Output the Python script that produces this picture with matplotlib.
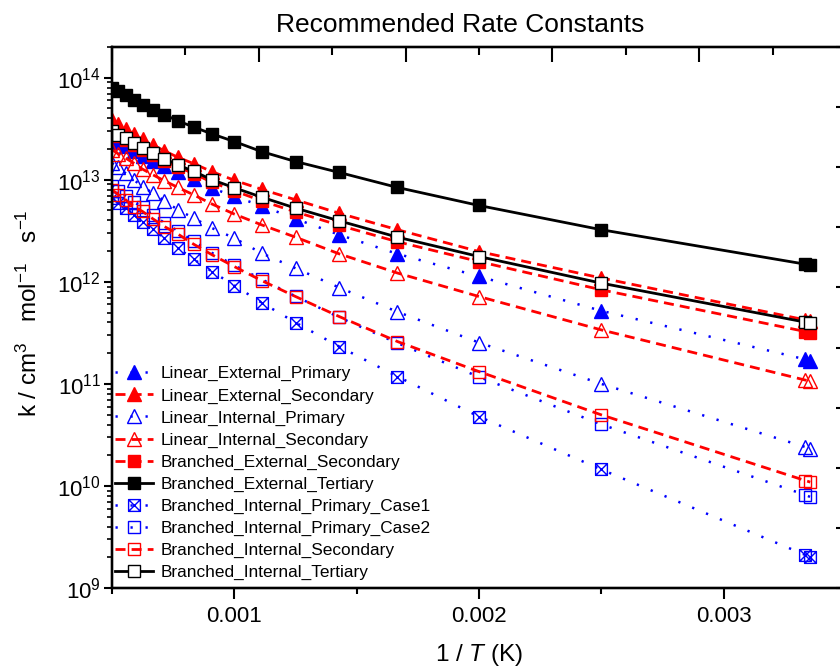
import numpy as np
import matplotlib
matplotlib.use('Agg')
import matplotlib.pyplot as plt
from matplotlib.path import Path
from matplotlib.ticker import LogLocator, NullFormatter, MultipleLocator, FixedLocator

plt.rcParams['font.family'] = ['Liberation Sans', 'DejaVu Sans']
plt.rcParams['mathtext.fontset'] = 'custom'
plt.rcParams['mathtext.rm'] = 'Liberation Sans'
plt.rcParams['mathtext.it'] = 'Liberation Sans:italic'
plt.rcParams['mathtext.default'] = 'regular'

# temperatures (K), x axis is 1/T
temps = [2000, 1900, 1800, 1700, 1600, 1500, 1400, 1300, 1200, 1100, 1000,
         900, 800, 700, 600, 500, 400, 300, 298.15]

# rate constants, cm3 mol-1 s-1
lin_ext_pri = [2.49e13, 2.33e13, 2.13e13, 1.92e13, 1.72e13, 1.53e13, 1.36e13, 1.19e13, 1.01e13, 8.29e12,
               6.86e12, 5.56e12, 4.15e12, 2.89e12, 1.88e12, 1.13e12, 5.20e11, 1.74e11, 1.68e11]
lin_ext_sec = [3.87e13, 3.54e13, 3.16e13, 2.82e13, 2.49e13, 2.20e13, 1.92e13, 1.66e13, 1.44e13, 1.20e13,
               9.89e12, 8.07e12, 6.37e12, 4.70e12, 3.24e12, 1.98e12, 1.09e12, 4.24e11, 4.15e11]
lin_int_pri = [1.46e13, 1.32e13, 1.16e13, 1.00e13, 8.59e12, 7.41e12, 6.22e12, 5.08e12, 4.22e12, 3.36e12,
               2.68e12, 1.91e12, 1.36e12, 8.79e11, 5.08e11, 2.54e11, 1.00e11, 2.41e10, 2.31e10]
lin_int_sec = [1.97e13, 1.79e13, 1.63e13, 1.46e13, 1.27e13, 1.12e13, 9.77e12, 8.41e12, 7.13e12, 5.78e12,
               4.61e12, 3.62e12, 2.74e12, 1.88e12, 1.22e12, 7.18e11, 3.38e11, 1.09e11, 1.07e11]
br_ext_sec = [2.89e13, 2.67e13, 2.47e13, 2.20e13, 1.97e13, 1.76e13, 1.53e13, 1.34e13, 1.15e13, 9.45e12,
              7.80e12, 6.22e12, 4.85e12, 3.58e12, 2.47e12, 1.58e12, 8.35e11, 3.26e11, 3.16e11]
br_ext_ter = [7.92e13, 7.46e13, 6.70e13, 6.08e13, 5.43e13, 4.85e13, 4.34e13, 3.78e13, 3.29e13, 2.81e13,
              2.37e13, 1.89e13, 1.51e13, 1.18e13, 8.41e12, 5.60e12, 3.24e12, 1.49e12, 1.47e12]
br_int_pri1 = [6.62e12, 5.92e12, 5.28e12, 4.54e12, 3.90e12, 3.31e12, 2.68e12, 2.14e12, 1.67e12, 1.26e12,
               9.20e11, 6.27e11, 3.99e11, 2.32e11, 1.18e11, 4.78e10, 1.45e10, 2.11e9, 2.01e9]
br_int_pri2 = [8.73e12, 7.80e12, 6.97e12, 6.08e12, 5.37e12, 4.54e12, 3.78e12, 3.16e12, 2.49e12, 1.92e12,
               1.45e12, 1.06e12, 7.21e11, 4.49e11, 2.51e11, 1.17e11, 4.01e10, 8.16e9, 7.80e9]
br_int_sec = [7.98e12, 7.13e12, 6.37e12, 5.47e12, 4.89e12, 4.15e12, 3.48e12, 2.94e12, 2.34e12, 1.84e12,
              1.41e12, 1.03e12, 7.18e11, 4.57e11, 2.60e11, 1.32e11, 4.97e10, 1.13e10, 1.09e10]
br_int_ter = [2.98e13, 2.76e13, 2.56e13, 2.29e13, 2.05e13, 1.83e13, 1.61e13, 1.40e13, 1.21e13, 1.00e13,
              8.35e12, 6.76e12, 5.28e12, 3.96e12, 2.74e12, 1.77e12, 9.71e11, 4.03e11, 3.94e11]

x = 1.0 / np.array(temps)

# square with a cross inside
boxx = Path([(-1, -1), (1, -1), (1, 1), (-1, 1), (-1, -1), (-1, -1), (1, 1), (-1, 1), (1, -1)],
            [Path.MOVETO, Path.LINETO, Path.LINETO, Path.LINETO, Path.CLOSEPOLY,
             Path.MOVETO, Path.LINETO, Path.MOVETO, Path.LINETO])

blue, red, black = '#0000ff', '#ff0000', '#000000'
dot = dict(ls=(0, (0.9, 5.1)), lw=1.8)
dash = dict(ls=(0, (3.6, 2.2)), lw=2.0)
solid = dict(ls='-', lw=2.0)

series = [
    ('Linear_External_Primary', lin_ext_pri, blue, dot, '^', blue, 10.5),
    ('Linear_External_Secondary', lin_ext_sec, red, dash, '^', red, 10.5),
    ('Linear_Internal_Primary', lin_int_pri, blue, dot, '^', 'none', 10.5),
    ('Linear_Internal_Secondary', lin_int_sec, red, dash, '^', 'none', 10.5),
    ('Branched_External_Secondary', br_ext_sec, red, dash, 's', red, 8.5),
    ('Branched_External_Tertiary', br_ext_ter, black, solid, 's', black, 8.5),
    ('Branched_Internal_Primary_Case1', br_int_pri1, blue, dot, boxx, 'none', 8.5),
    ('Branched_Internal_Primary_Case2', br_int_pri2, blue, dot, 's', 'none', 8.5),
    ('Branched_Internal_Secondary', br_int_sec, red, dash, 's', 'none', 8.5),
    ('Branched_Internal_Tertiary', br_int_ter, black, solid, 's', 'white', 8.5),
]

fig = plt.figure(figsize=(8.4, 6.69), dpi=100)
ax = fig.add_axes([112/840, 1 - 588/669, 734/840, 541/669])

for lab, y, c, st, m, fc, ms in series:
    ax.plot(x, y, color=c, marker=m, ms=ms, mfc=fc, mec=c, mew=1.0, label=lab, **st)

ax.set_yscale('log')
ax.set_xlim(0.0005, 0.0035)
ax.set_ylim(1e9, 2e14)

axt = ax.twiny()
axr = ax.twinx()

ax.set_xticks([0.001, 0.002, 0.003])
ax.set_xticklabels(['0.001', '0.002', '0.003'])
ax.xaxis.set_minor_locator(FixedLocator([0.0005, 0.0015, 0.0025, 0.0035]))
ax.yaxis.set_major_locator(LogLocator(base=10, numticks=20))
ax.yaxis.set_minor_locator(LogLocator(base=10, subs=np.arange(2, 10), numticks=20))
ax.yaxis.set_minor_formatter(NullFormatter())
ax.tick_params(axis='x', which='major', direction='out', length=8, width=1.5, labelsize=16, pad=5)
ax.tick_params(axis='x', which='minor', direction='out', length=4.5, width=1.5)
ax.tick_params(axis='y', which='major', direction='out', length=6, width=1.5, labelsize=16, pad=2)
ax.tick_params(axis='y', which='minor', direction='out', length=3.5, width=1.2)

axt.set_xlim(0, 5)
axt.xaxis.set_major_locator(MultipleLocator(1))
axt.xaxis.set_minor_locator(MultipleLocator(0.5))
axt.tick_params(axis='x', which='major', direction='in', length=11, width=1.5, labeltop=False)
axt.tick_params(axis='x', which='minor', direction='in', length=6, width=1.5)

axr.set_ylim(0, 9)
axr.yaxis.set_major_locator(MultipleLocator(1))
axr.tick_params(axis='y', which='major', direction='in', length=7, width=1.5, labelright=False)

for a in (ax, axt, axr):
    for sp in a.spines.values():
        sp.set_linewidth(1.6)

ax.set_xlabel(r'1 / $\mathit{T}$ (K)', fontsize=17.5)
ax.xaxis.set_label_coords(0.5, -0.1)
ax.set_ylabel(r'k / cm$^{3}$   mol$^{-1}$   s$^{-1}$', fontsize=17.5)
ax.yaxis.set_label_coords(-0.095, 0.508)

fig.text(0.548, 0.9626, 'Recommended Rate Constants', ha='center', va='center', fontsize=19)

ax.legend(loc='lower left', bbox_to_anchor=(0.0, 0.008), frameon=False, fontsize=12.4,
          handlelength=2.2, handletextpad=0.45, labelspacing=0.4, borderaxespad=0, borderpad=0.2)

fig.savefig('out.png', dpi=100)
